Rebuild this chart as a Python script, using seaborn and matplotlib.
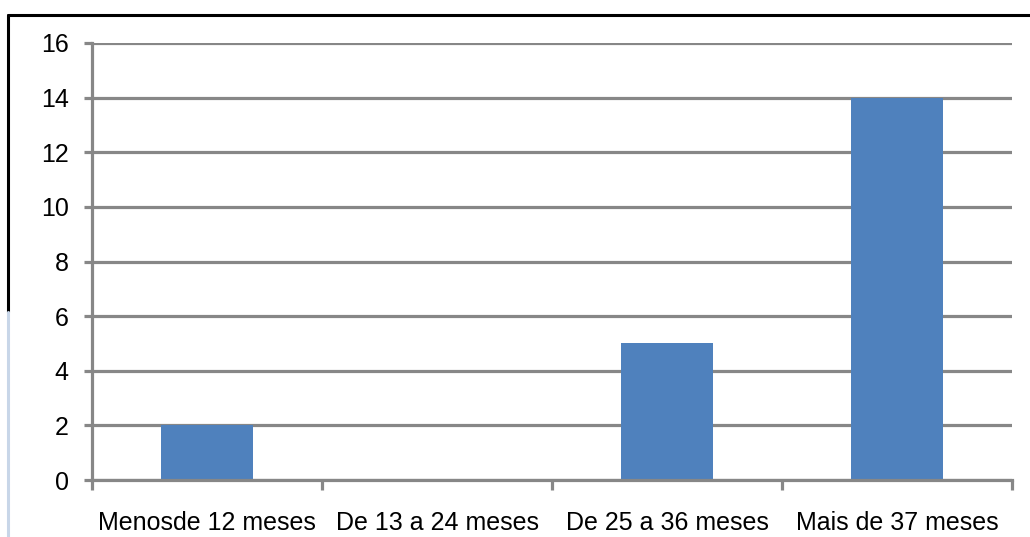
import matplotlib
matplotlib.use("Agg")
import matplotlib.pyplot as plt
import seaborn as sns
import pandas as pd
from matplotlib.lines import Line2D

categories = ["Menosde 12 meses", "De 13 a 24 meses", "De 25 a 36 meses", "Mais de 37 meses"]
values = [2, 0, 5, 14]
yticks = [0, 2, 4, 6, 8, 10, 12, 14, 16]

sns.set_theme(style="white")
plt.rcParams['font.family'] = ['Liberation Sans', 'DejaVu Sans']

df = pd.DataFrame({"cat": categories, "val": values})

fig = plt.figure(figsize=(10.30, 5.37), dpi=100)
ax = fig.add_axes([92/1030, 57/537, 920/1030, 437/537])

grid_c = "#878787"
sns.barplot(data=df, x="cat", y="val", color="#4F81BD", width=0.4,
            saturation=1, ax=ax, zorder=3, linewidth=0, edgecolor="none")

ax.set_xlim(-0.5, 3.5)
ax.set_ylim(0, 16)
ax.set_yticks(yticks)
ax.set_yticklabels([str(v) for v in yticks])
ax.yaxis.grid(True, color=grid_c, linewidth=2.3, zorder=0)
ax.set_axisbelow(True)

ax.set_xticks([-0.5, 0.5, 1.5, 2.5, 3.5])
ax.set_xticklabels([])
ax.set_xticks(range(len(categories)), minor=True)
ax.set_xticklabels(categories, minor=True, fontsize=18, color="black")
ax.tick_params(axis="x", which="major", length=7.5, width=2.3, color=grid_c, direction="out", bottom=True)
ax.tick_params(axis="x", which="minor", length=0, pad=22)
ax.tick_params(axis="y", length=5.8, width=2.3, color=grid_c, direction="out", left=True, pad=11, labelsize=18, labelcolor="black")

ax.set_xlabel("")
ax.set_ylabel("")
for s in ["top", "right"]:
    ax.spines[s].set_visible(False)
for s in ["left", "bottom"]:
    ax.spines[s].set_color(grid_c)
    ax.spines[s].set_linewidth(2.3)
    ax.spines[s].set_zorder(4)

# outer chart border
H = 537.0
W = 1030.0
fig.add_artist(Line2D([8/W, 1.0], [1 - 15/H, 1 - 15/H], color="black", linewidth=2.2, transform=fig.transFigure))
fig.add_artist(Line2D([8/W, 8/W], [1 - 15/H, 1 - 312/H], color="black", linewidth=2.2, transform=fig.transFigure))
fig.add_artist(Line2D([8/W, 8/W], [1 - 312/H, 0], color="#c8d6e8", linewidth=2.2, transform=fig.transFigure))

fig.savefig("out.png", dpi=100, facecolor="white")
